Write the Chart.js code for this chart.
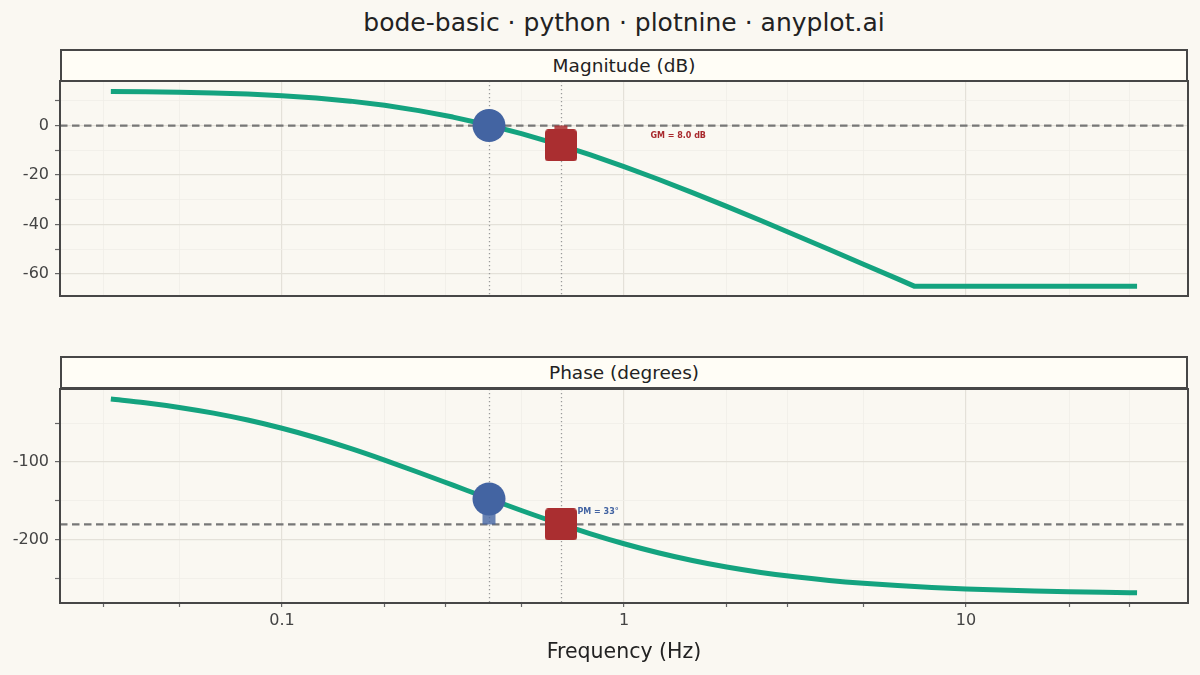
<!DOCTYPE html>
<html><head><meta charset="utf-8">
<script src="https://cdn.jsdelivr.net/npm/chart.js@4.4.0/dist/chart.umd.min.js"></script>
<style>
html,body{margin:0;padding:0;background:#FAF8F2;}
#wrap{position:relative;width:1200px;height:675px;font-family:'DejaVu Sans',sans-serif;overflow:hidden;}
canvas{position:absolute;left:0;}
#title{position:absolute;left:0;width:1248px;top:8px;text-align:center;font-size:25px;line-height:30px;color:#222;}
.strip{position:absolute;left:60px;width:1128px;height:33px;box-sizing:border-box;border:2px solid #474747;background:#FFFDF6;display:flex;align-items:center;justify-content:center;font-size:18.5px;color:#222;z-index:3;}
#xtitle{position:absolute;left:0;width:1248px;top:639px;text-align:center;font-size:20.5px;line-height:24px;color:#222;}
</style></head><body>
<div id="wrap">
<div id="title">bode-basic · python · plotnine · anyplot.ai</div>
<canvas id="c1" width="1200" height="340" style="top:0"></canvas>
<canvas id="c2" width="1200" height="335" style="top:340px"></canvas>
<div class="strip" style="top:49px">Magnitude (dB)</div>
<div class="strip" style="top:356px">Phase (degrees)</div>
<div id="xtitle">Frequency (Hz)</div>
</div>
<script>
// ---- data ----
const freqHz = [0.0316,0.0398,0.0501,0.0631,0.0794,0.1,0.1259,0.1585,0.1995,0.2512,0.3162,0.3981,0.5012,0.631,0.7943,1,1.2589,1.5849,1.9953,2.5119,3.1623,3.9811,5.0119,6.3096,7.0795,7.9433,10,12.589,15.849,19.953,25.119,31.623];
const magDb = [13.76,13.64,13.44,13.15,12.71,12.06,11.13,9.86,8.17,6.03,3.42,0.31,-3.27,-7.30,-11.75,-16.57,-21.71,-27.10,-32.69,-38.41,-44.23,-50.12,-56.04,-61.99,-65,-65,-65,-65,-65,-65,-65,-65];
const phaseDeg = [-19.19,-24.03,-30.03,-37.38,-46.23,-56.74,-68.92,-82.61,-97.58,-113.44,-129.76,-146.15,-162.16,-177.48,-191.78,-204.79,-216.30,-226.25,-234.64,-241.57,-247.24,-251.84,-255.53,-258.48,-259.73,-260.84,-262.72,-264.21,-265.40,-266.35,-267.10,-267.69];
const crossFreq = 0.403, crossMag = 0, crossPhase = -147.5;
const gmFreq = 0.654, gmMag = -8.0, gmPhase = -180;
const gmLabel = {text:'GM = 8.0 dB', x:1.44, y:-4.0};
const pmLabel = {text:'PM = 33°', x:0.84, y:-164};
const xTicks = [0.03,0.05,0.1,0.2,0.3,0.5,1,2,3,5,10,20,30];
const xMajor = [0.1,1,10];
const magTicks = [-60,-50,-40,-30,-20,-10,0,10];
const magMajor = [-60,-40,-20,0];
const phaseTicks = [-250,-200,-150,-100,-50];
const phaseMajor = [-200,-100];
const xRange = [0.02244, 44.56];
const magRange = [-68.9, 18.0];
const phaseRange = [-280.8, -6.4];

// ---- styling ----
const FAMILY = "'DejaVu Sans', sans-serif";
const GREEN = '#14A37F', BLUE = '#4364A2', RED = '#AA2E30';
const GRID_MAJ = '#E4E1D9', GRID_MIN = '#F0EEE7';

function squareStyle(size){
  const c = document.createElement('canvas');
  c.width = size; c.height = size;
  const g = c.getContext('2d');
  g.fillStyle = RED;
  g.beginPath();
  if (g.roundRect) g.roundRect(0,0,size,size,3.5); else g.rect(0,0,size,size);
  g.fill();
  return c;
}
const SQ = squareStyle(32);

function panelPlugin(refY, label, labelColor){
  return {
    id:'panel',
    beforeDatasetsDraw(chart){
      const {ctx, chartArea:a, scales:{x,y}} = chart;
      ctx.save();
      ctx.beginPath(); ctx.rect(a.left,a.top,a.right-a.left,a.bottom-a.top); ctx.clip();
      ctx.strokeStyle = '#9A9A9A'; ctx.lineWidth = 1.3; ctx.setLineDash([1.3,2.7]);
      [crossFreq, gmFreq].forEach(f=>{
        const px = Math.round(x.getPixelForValue(f))+0.5;
        ctx.beginPath(); ctx.moveTo(px,a.top); ctx.lineTo(px,a.bottom); ctx.stroke();
      });
      ctx.strokeStyle = '#777'; ctx.lineWidth = 2.2; ctx.setLineDash([7.5,4.5]);
      const py = y.getPixelForValue(refY);
      ctx.beginPath(); ctx.moveTo(a.left,py); ctx.lineTo(a.right,py); ctx.stroke();
      ctx.restore();
    },
    afterDatasetsDraw(chart){
      const {ctx, chartArea:a, scales:{x,y}} = chart;
      ctx.save();
      ctx.font = 'bold 8px ' + FAMILY;
      ctx.fillStyle = labelColor; ctx.textAlign = 'center'; ctx.textBaseline = 'middle';
      ctx.fillText(label.text, x.getPixelForValue(label.x), y.getPixelForValue(label.y));
      ctx.strokeStyle = '#474747'; ctx.lineWidth = 2; ctx.setLineDash([]);
      ctx.strokeRect(a.left, a.top, a.right-a.left, a.bottom-a.top);
      ctx.restore();
    }
  };
}

function makeChart(id, vals, yR, yT, yM, marks, refY, label, labelColor, bottom, smooth){
  const pts = freqHz.map((f,i)=>({x:f, y:vals[i]}));
  const curve = {data:pts, borderColor:GREEN, borderWidth:5, pointRadius:0, order:2, borderJoinStyle:'round'};
  if (smooth) curve.cubicInterpolationMode = 'monotone'; else curve.tension = 0;
  return new Chart(document.getElementById(id), {
    type:'line',
    data:{datasets:[
      {data:[marks.circle], showLine:false, pointRadius:16.5, pointHoverRadius:16.5, pointBackgroundColor:BLUE, pointBorderWidth:0, order:0},
      {data:[marks.square], showLine:false, pointStyle:SQ, pointRadius:16, pointHoverRadius:16, order:0},
      {data:marks.seg, borderColor:marks.segColor, borderWidth:13, borderCapStyle:'butt', pointRadius:0, order:1},
      curve
    ]},
    options:{
      responsive:false, maintainAspectRatio:false, animation:false, devicePixelRatio:1,
      events:[],
      layout:{autoPadding:false, padding:{left:0,right:12,top: bottom?49:81, bottom: bottom?0:44}},
      plugins:{legend:{display:false}, tooltip:{enabled:false}},
      scales:{
        x:{type:'logarithmic', min:xRange[0], max:xRange[1], bounds:'data',
          afterBuildTicks:s=>{ s.ticks = xTicks.map(v=>({value:v})); },
          afterFit:s=>{ s.height = bottom?72:0; },
          ticks:{display:bottom, autoSkip:false, maxRotation:0, minRotation:0, padding:4,
            callback:(v)=> xMajor.includes(v)? String(v) : '',
            font:{family:FAMILY,size:16}, color:'#444'},
          grid:{color:c=> xMajor.includes(c.tick && c.tick.value)? GRID_MAJ: GRID_MIN,
            lineWidth:c=> xMajor.includes(c.tick && c.tick.value)? 1.2: 0.8,
            drawTicks:bottom, tickLength:4, tickColor:'#666', tickWidth:1.2},
          border:{display:false}
        },
        y:{type:'linear', min:yR[0], max:yR[1], bounds:'data',
          afterBuildTicks:s=>{ s.ticks = yT.map(v=>({value:v})); },
          afterFit:s=>{ s.width = 60; },
          ticks:{autoSkip:false, padding:6, callback:(v)=> yM.includes(v)? String(v):'',
            font:{family:FAMILY,size:16}, color:'#444'},
          grid:{color:c=> yM.includes(c.tick && c.tick.value)? GRID_MAJ: GRID_MIN,
            lineWidth:c=> yM.includes(c.tick && c.tick.value)? 1.2: 0.8,
            tickLength:5, tickColor:'#666', tickWidth:1.2},
          border:{display:false}
        }
      }
    },
    plugins:[panelPlugin(refY, label, labelColor)]
  });
}

function fitArea(chart, t){
  for (let k=0;k<3;k++){
    const a = chart.chartArea, p = chart.config.options.layout.padding;
    const d = {l:t.left-a.left, r:a.right-t.right, t:t.top-a.top, b:a.bottom-t.bottom};
    if (Math.abs(d.l)+Math.abs(d.r)+Math.abs(d.t)+Math.abs(d.b) < 0.3) break;
    p.left += d.l; p.right += d.r; p.top += d.t; p.bottom += d.b;
    chart.update();
  }
}

const c1 = makeChart('c1', magDb, magRange, magTicks, magMajor,
  {circle:{x:crossFreq,y:crossMag}, square:{x:gmFreq,y:gmMag},
   seg:[{x:gmFreq,y:0},{x:gmFreq,y:gmMag}], segColor:'rgba(170,46,48,0.85)'},
  0, gmLabel, '#A8282C', false, false);
const c2 = makeChart('c2', phaseDeg, phaseRange, phaseTicks, phaseMajor,
  {circle:{x:crossFreq,y:crossPhase}, square:{x:gmFreq,y:gmPhase},
   seg:[{x:crossFreq,y:crossPhase},{x:crossFreq,y:-180}], segColor:'rgba(67,100,162,0.8)'},
  -180, pmLabel, '#4364A2', true, true);
fitArea(c1, {left:60, right:1188, top:81, bottom:296});
fitArea(c2, {left:60, right:1188, top:49, bottom:263});
</script>
</body></html>
